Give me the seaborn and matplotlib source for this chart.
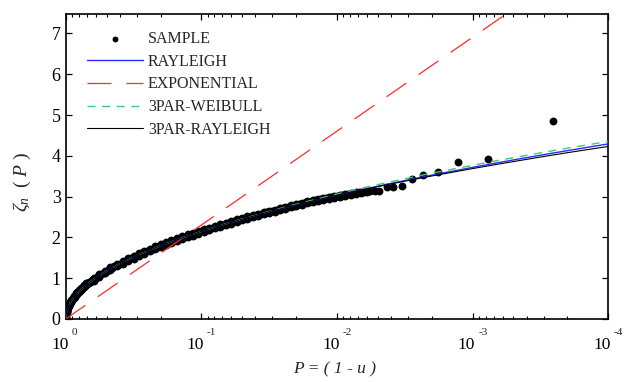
import numpy as np
import matplotlib
matplotlib.use("Agg")
import matplotlib.pyplot as plt
import matplotlib.transforms as mtransforms
from matplotlib.ticker import LogLocator, NullFormatter, FixedLocator, FixedFormatter
import seaborn as sns

# ---------------- data ----------------
sample_p = [0.9995, 0.998, 0.995, 0.99, 0.985, 0.98, 0.975, 0.97, 0.965, 0.96, 0.955, 0.95,
            0.94, 0.93, 0.92, 0.912, 0.90, 0.88, 0.86, 0.85, 0.832, 0.81, 0.79, 0.759, 0.74,
            0.72, 0.692, 0.66, 0.631, 0.60, 0.575, 0.55, 0.525, 0.50, 0.479, 0.457, 0.437,
            0.398, 0.363, 0.331, 0.302, 0.275, 0.251, 0.229, 0.209, 0.191, 0.174, 0.158,
            0.145, 0.132, 0.120, 0.110, 0.100, 0.0912, 0.0832, 0.0759, 0.0692, 0.0631,
            0.0575, 0.0525, 0.0479, 0.0437, 0.0398, 0.0363, 0.0331, 0.0302, 0.0275, 0.0251,
            0.0229, 0.0209, 0.0191, 0.0174, 0.0158, 0.0145, 0.0132, 0.0120, 0.0110, 0.0100,
            0.00912, 0.00832, 0.00759, 0.00692, 0.00631, 0.00575, 0.00525, 0.00488, 0.00431,
            0.00385, 0.00333, 0.00281, 0.00233, 0.00181, 0.00129, 0.000764, 0.000254]
sample_z = [0.032, 0.063, 0.100, 0.142, 0.174, 0.201, 0.225, 0.247, 0.267, 0.286, 0.303, 0.320,
            0.352, 0.381, 0.408, 0.429, 0.459, 0.506, 0.549, 0.570, 0.607, 0.649, 0.687, 0.743,
            0.776, 0.811, 0.858, 0.912, 0.960, 1.011, 1.051, 1.093, 1.136, 1.177, 1.214, 1.251,
            1.288, 1.357, 1.423, 1.487, 1.548, 1.606, 1.662, 1.717, 1.770, 1.821, 1.871, 1.919,
            1.967, 2.013, 2.058, 2.103, 2.146, 2.188, 2.230, 2.271, 2.311, 2.351, 2.390, 2.428,
            2.466, 2.503, 2.539, 2.575, 2.611, 2.646, 2.680, 2.714, 2.748, 2.781, 2.814, 2.847,
            2.879, 2.911, 2.942, 2.964, 2.990, 3.015, 3.040, 3.065, 3.090, 3.110, 3.125, 3.135,
            3.140, 3.145, 3.243, 3.243, 3.267, 3.431, 3.522, 3.610, 3.841, 3.917, 4.846]
# further sample points inside the dense band (its upper and lower edges)
band_p = [0.985, 0.97, 0.955, 0.935, 0.915, 0.89, 0.87, 0.842, 0.82, 0.795, 0.77, 0.73,
          0.705, 0.676, 0.645, 0.62, 0.565, 0.515, 0.468, 0.417, 0.380, 0.347, 0.316, 0.288,
          0.263, 0.240, 0.219, 0.200, 0.182, 0.166, 0.151, 0.138, 0.126, 0.115, 0.105,
          0.0955, 0.0871, 0.0794, 0.0724, 0.0661, 0.0603, 0.0550, 0.0501, 0.0457, 0.0417,
          0.0380, 0.0347, 0.0316, 0.0288, 0.0263, 0.0240, 0.0219, 0.0200, 0.0182, 0.0166,
          0.0151, 0.0138, 0.0126, 0.0115, 0.0105, 0.00955, 0.00871, 0.00794, 0.00724,
          0.00661, 0.00603]
band_upper_z = [0.215, 0.290, 0.345, 0.405, 0.455, 0.520, 0.560, 0.625, 0.665, 0.710, 0.760,
                0.830, 0.870, 0.915, 0.965, 1.013, 1.104, 1.187, 1.267, 1.358, 1.425, 1.490,
                1.552, 1.612, 1.669, 1.725, 1.778, 1.830, 1.880, 1.930, 1.978, 2.025, 2.071,
                2.116, 2.159, 2.197, 2.239, 2.281, 2.321, 2.361, 2.400, 2.439, 2.477, 2.514,
                2.541, 2.577, 2.613, 2.648, 2.683, 2.717, 2.751, 2.785, 2.818, 2.851, 2.883,
                2.915, 2.947, 2.978, 2.988, 3.005, 3.030, 3.055, 3.080, 3.105, 3.125, 3.138]
band_lower_z = [0.175, 0.250, 0.305, 0.365, 0.415, 0.480, 0.520, 0.585, 0.625, 0.670, 0.720,
                0.790, 0.830, 0.875, 0.925, 0.943, 1.034, 1.117, 1.197, 1.288, 1.355, 1.420,
                1.482, 1.542, 1.599, 1.655, 1.708, 1.760, 1.810, 1.860, 1.908, 1.955, 2.001,
                2.046, 2.089, 2.137, 2.179, 2.221, 2.261, 2.301, 2.340, 2.379, 2.417, 2.454,
                2.491, 2.527, 2.563, 2.598, 2.633, 2.667, 2.701, 2.735, 2.768, 2.801, 2.833,
                2.865, 2.897, 2.928, 2.948, 2.965, 2.990, 3.015, 3.040, 3.065, 3.090, 3.105]

line_p = [1.0, 0.999, 0.995, 0.99, 0.98, 0.97, 0.95, 0.92, 0.9, 0.85, 0.8, 0.7, 0.6, 0.5, 0.4,
          0.3, 0.2, 0.15, 0.1, 0.07, 0.05, 0.03, 0.02, 0.01, 0.007, 0.005, 0.003, 0.002,
          0.001, 0.0007, 0.0005, 0.0003, 0.0002, 0.0001]
rayleigh = [0.0, 0.045, 0.100, 0.142, 0.201, 0.247, 0.320, 0.408, 0.459, 0.570, 0.668, 0.845,
            1.011, 1.177, 1.354, 1.552, 1.794, 1.948, 2.146, 2.306, 2.448, 2.648, 2.797, 3.035,
            3.150, 3.255, 3.409, 3.526, 3.717, 3.812, 3.899, 4.028, 4.127, 4.292]
exponential = [0.0, 0.001, 0.005, 0.010, 0.020, 0.030, 0.051, 0.083, 0.105, 0.163, 0.223,
               0.357, 0.511, 0.693, 0.916, 1.204, 1.609, 1.897, 2.303, 2.659, 2.996, 3.507,
               3.912, 4.605, 4.962, 5.298, 5.809, 6.215, 6.908, 7.264, 7.601, 8.112, 8.517, 9.210]
weibull3 = [0.0, 0.045, 0.100, 0.142, 0.201, 0.247, 0.320, 0.408, 0.459, 0.570, 0.668, 0.845,
            1.011, 1.177, 1.354, 1.552, 1.794, 1.948, 2.146, 2.308, 2.452, 2.658, 2.812, 3.065,
            3.185, 3.295, 3.454, 3.576, 3.767, 3.867, 3.954, 4.086, 4.187, 4.352]
rayleigh3 = [0.0, 0.045, 0.100, 0.142, 0.201, 0.247, 0.320, 0.408, 0.459, 0.570, 0.668, 0.845,
             1.011, 1.177, 1.354, 1.552, 1.794, 1.948, 2.146, 2.306, 2.448, 2.648, 2.797, 3.035,
             3.145, 3.245, 3.394, 3.506, 3.687, 3.777, 3.859, 3.983, 4.077, 4.230]

series_labels = ["SAMPLE", "RAYLEIGH", "EXPONENTIAL", "3PAR-WEIBULL", "3PAR-RAYLEIGH"]
xtick_vals = [1.0, 0.1, 0.01, 0.001, 0.0001]
xtick_exps = ["0", "-1", "-2", "-3", "-4"]

# ---------------- style ----------------
sns.set_style("ticks")
plt.rcParams["font.family"] = ["Liberation Serif", "DejaVu Serif"]
plt.rcParams["mathtext.fontset"] = "custom"
plt.rcParams["mathtext.rm"] = "Liberation Serif"
plt.rcParams["mathtext.it"] = "Liberation Serif:italic"
plt.rcParams["lines.scale_dashes"] = False

fig = plt.figure(figsize=(6.39, 3.82), dpi=100)
ax = fig.add_axes([0.1028, 0.165, 0.8491, 0.7976])
ax.set_xscale("log")

all_p = sample_p + band_p + band_p
all_z = sample_z + band_upper_z + band_lower_z
sns.scatterplot(x=all_p, y=all_z, ax=ax, color="black", s=32, linewidth=0,
                label=series_labels[0], zorder=2)

line_specs = [
    (rayleigh, "#2a2aff", 1.0, None),
    (exponential, "#ff2a2a", 0.9, (17.3, 10.8)),
    (weibull3, "#3dcc6e", 1.0, (5.8, 4.7)),
    (rayleigh3, "black", 0.8, None),
]
for (vals, col, lw, dash), lab in zip(line_specs, series_labels[1:]):
    sns.lineplot(x=line_p, y=vals, ax=ax, color=col, lw=lw, label=lab,
                 estimator=None, sort=False, zorder=3)
    if dash is not None:
        ax.lines[-1].set_dashes(dash)

ax.set_xlim(1.0, 1e-4)
ax.set_ylim(0, 7.47)

# ticks
ax.xaxis.set_major_locator(FixedLocator(xtick_vals))
ax.xaxis.set_major_formatter(FixedFormatter(["10"] * len(xtick_vals)))
ax.xaxis.set_minor_locator(LogLocator(base=10, subs=np.arange(2, 10), numticks=30))
ax.xaxis.set_minor_formatter(NullFormatter())
ax.set_yticks(range(8))
ax.tick_params(which="both", direction="in", top=True, right=True, colors="black")
ax.tick_params(which="major", length=4, width=0.9)
ax.tick_params(which="minor", length=2.5, width=0.8)
ax.tick_params(axis="x", which="major", labelsize=12.5, pad=13)
ax.tick_params(axis="y", which="major", labelsize=13, pad=3.6)
for s in ax.spines.values():
    s.set_linewidth(1.2)
    s.set_color("black")

fig.canvas.draw()
shift = mtransforms.ScaledTranslation(-6.0 / 100, 0, fig.dpi_scale_trans)
for lbl in ax.get_xticklabels():
    lbl.set_transform(lbl.get_transform() + shift)

for p, e in zip(xtick_vals, xtick_exps):
    ax.annotate(e, xy=(p, 0), xycoords=("data", "axes fraction"),
                xytext=(4.0, -9.4), textcoords="offset points",
                fontsize=8, ha="left", va="center", annotation_clip=False)

ax.set_ylabel(r"$\zeta_n\ \ (\ P\ )$", fontsize=14)
ax.yaxis.set_label_coords(-0.060, 0.45)
ax.set_xlabel("P = ( 1 - u )", fontstyle="italic", fontsize=12.5)
ax.xaxis.set_label_coords(0.495, -0.138)

handles, labels = ax.get_legend_handles_labels()
order = [labels.index(l) for l in series_labels]
ax.legend([handles[i] for i in order], [labels[i] for i in order],
          loc="upper left", bbox_to_anchor=(0.0393, 0.945), frameon=False,
          fontsize=11.5, handlelength=3.5, handletextpad=0.31, labelspacing=0.42,
          borderpad=0, borderaxespad=0, markerscale=0.75)

fig.savefig("out.png", dpi=100)
